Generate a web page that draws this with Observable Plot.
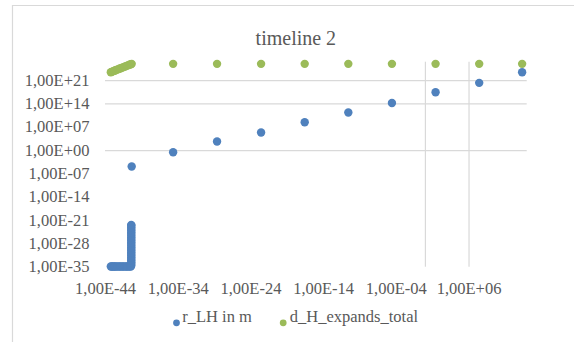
<!DOCTYPE html>
<html><head><meta charset="utf-8">
<script src="https://cdn.jsdelivr.net/npm/d3@7"></script>
<script src="https://cdn.jsdelivr.net/npm/@observablehq/plot@0.6"></script>
<style>
body{margin:0;background:#fff}
#chart svg text{font-family:"Liberation Serif", serif !important}
</style>
</head><body><div id="chart"></div>
<script>
const title = "timeline 2";
const seriesNames = ["r_LH in m", "d_H_expands_total"];
const seriesColors = ["#4F81BD", "#9BBB59"];

// r_LH in m  (time, value)
const rTime = [
  5.4e-44, 7e-44, 1e-43, 1.5e-43, 2e-43, 3e-43, 5e-43, 8e-43, 1.2e-42, 2e-42, 3e-42, 5e-42, 8e-42, 1.2e-41, 2e-41, 3e-41,
  3.5e-41, 3.5e-41, 3.5e-41, 3.5e-41, 3.5e-41, 3.5e-41, 3.5e-41, 3.5e-41, 3.5e-41, 3.5e-41, 3.5e-41, 3.5e-41, 3.5e-41,
  3.5e-41, 3.5e-41, 3.5e-41, 3.5e-41, 3.5e-41, 3.5e-41, 3.5e-41, 3.5e-41, 3.5e-41, 3.5e-41, 3.5e-41, 3.5e-41, 3.5e-41,
  4e-41,
  2e-35, 2.2e-29, 2.5e-23, 2.5e-17, 2.5e-11, 2.5e-5, 25, 2.5e7, 2e13
];
const rValue = [
  1.6e-35, 1.6e-35, 1.6e-35, 1.6e-35, 1.6e-35, 1.6e-35, 1.6e-35, 1.6e-35, 1.6e-35, 1.6e-35, 1.6e-35, 1.6e-35, 1.6e-35, 1.6e-35, 1.6e-35, 1.6e-35,
  3e-35, 1e-34, 3e-34, 1e-33, 3e-33, 1e-32, 3e-32, 1e-31, 3e-31, 1e-30, 3e-30, 1e-29, 3e-29,
  1e-28, 3e-28, 1e-27, 3e-27, 1e-26, 3e-26, 1e-25, 3e-25, 1e-24, 3e-24, 1e-23, 3e-23, 5e-23,
  1.6e-5,
  0.31, 500, 2.5e5, 3.1e8, 2.5e11, 1.8e14, 3.2e17, 2e20, 3.2e23
];
// d_H_expands_total (time, value)
const dTime = [
  5.4e-44, 7e-44, 1e-43, 1.5e-43, 2e-43, 3e-43, 5e-43, 8e-43, 1.2e-42, 2e-42, 3e-42, 5e-42, 8e-42, 1.2e-41, 2e-41, 3e-41, 4e-41,
  2e-35, 2.2e-29, 2.5e-23, 2.5e-17, 2.5e-11, 2.5e-5, 25, 2.5e7, 2e13
];
const dValue = [
  3.2e23, 4e23, 5.5e23, 7.8e23, 1e24, 1.4e24, 2.2e24, 3.3e24, 4.8e24, 7.4e24, 1.05e25, 1.65e25, 2.5e25, 3.5e25, 5.5e25, 7.9e25, 1e26,
  1e26, 1e26, 1e26, 1e26, 1e26, 1e26, 1e26, 1e26, 1e26
];

const xTicks = [1e-44, 1e-34, 1e-24, 1e-14, 1e-4, 1e6];
const xTickLabels = ["1,00E-44", "1,00E-34", "1,00E-24", "1,00E-14", "1,00E-04", "1,00E+06"];
const yTicks = [1e-35, 1e-28, 1e-21, 1e-14, 1e-7, 1, 1e7, 1e14, 1e21];
const yTickLabels = ["1,00E-35", "1,00E-28", "1,00E-21", "1,00E-14", "1,00E-07", "1,00E+00", "1,00E+07", "1,00E+14", "1,00E+21"];
const xGrid = [1, 1e6];
const yGrid = [1e14, 1e21];
const xDomain = [1e-44, 1e14];
const yDomain = [1e-35, 3.16e26];
const xAxisCrossesAt = 1;

const rData = rTime.map((t, i) => ({t, v: rValue[i]}));
const dData = dTime.map((t, i) => ({t, v: dValue[i]}));
const grey = "#d9d9d9";
const textColor = "#595959";
const font = "Liberation Serif";

const chart = Plot.plot({
  width: 574,
  height: 342,
  marginLeft: 105,
  marginRight: 47.3,
  marginTop: 61.7,
  marginBottom: 75.3,
  style: {fontFamily: font, fontSize: "16.5px"},
  x: {type: "log", domain: xDomain, label: null},
  y: {type: "log", domain: yDomain, label: null},
  marks: [
    Plot.ruleY(yGrid, {stroke: grey, strokeWidth: 1.2}),
    Plot.ruleX(xGrid, {stroke: grey, strokeWidth: 1.2}),
    Plot.ruleY([xAxisCrossesAt], {stroke: grey, strokeWidth: 1.2}),
    Plot.ruleX(xTicks, {y: () => xAxisCrossesAt, insetBottom: 4, stroke: grey, strokeWidth: 1.2}),
    Plot.axisX(xTicks, {label: null, tickSize: 0, tickPadding: 15, tickFormat: d => xTickLabels[xTicks.indexOf(d)], fill: textColor, fontFamily: font}),
    Plot.axisY(yTicks, {label: null, tickSize: 0, tickPadding: 16, tickFormat: d => yTickLabels[yTicks.indexOf(d)], fill: textColor, fontFamily: font}),
    Plot.dot(rData, {x: "t", y: "v", r: 4.2, fill: seriesColors[0]}),
    Plot.dot(dData, {x: "t", y: "v", r: 4.2, fill: seriesColors[1]}),
    Plot.text([title], {frameAnchor: "top", dx: -20.5, dy: -31.8, fontSize: 20, fill: textColor, fontFamily: font}),
    Plot.dot([seriesNames[0]], {frameAnchor: "bottom-left", dx: 71, dy: 55.6, r: 3.4, fill: seriesColors[0]}),
    Plot.text([seriesNames[0]], {frameAnchor: "bottom-left", dx: 76.7, dy: 55.2, textAnchor: "start", fill: textColor, fontFamily: font}),
    Plot.dot([seriesNames[1]], {frameAnchor: "bottom-left", dx: 177.7, dy: 55.6, r: 3.4, fill: seriesColors[1]}),
    Plot.text([seriesNames[1]], {frameAnchor: "bottom-left", dx: 184.3, dy: 55.2, textAnchor: "start", fill: textColor, fontFamily: font})
  ]
});

d3.select(chart).append("path")
  .attr("d", "M12.5,342V5.5H574")
  .attr("fill", "none")
  .attr("stroke", grey)
  .attr("stroke-width", 1.2);

document.getElementById("chart").appendChild(chart);
</script>
</body></html>
